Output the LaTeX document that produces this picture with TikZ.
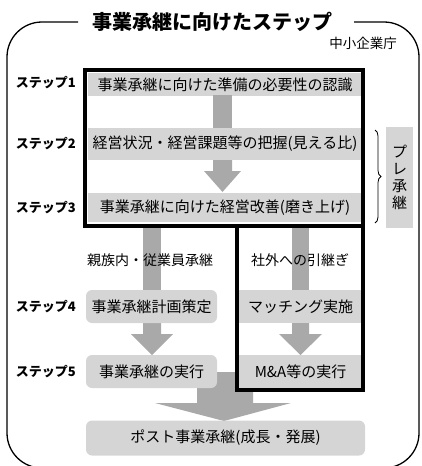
\documentclass[tikz,border=0pt]{standalone}
\usepackage{fontspec}
\setmainfont{Noto Sans CJK JP}
\usetikzlibrary{decorations.pathreplacing}
\definecolor{bandgray}{HTML}{D5D5D5}
\definecolor{arrgray}{HTML}{A9A9A9}
\begin{document}
\begin{tikzpicture}[x=1pt,y=-1pt,
  band/.style={fill=bandgray,inner sep=0pt,text=black,font=\fontsize{15}{17}\selectfont},
  rband/.style={band,rounded corners=6pt},
  steplabel/.style={anchor=east,inner sep=0pt,font=\bfseries\fontsize{13}{15}\selectfont},
  sublabel/.style={inner sep=1pt,font=\fontsize{14}{16}\selectfont},
  arr/.style={fill=arrgray,draw=none},
  thick frame/.style={draw=black,line width=4pt},
  outer/.style={draw=black,line width=1.3pt,rounded corners=35pt}]
\useasboundingbox (0,0) rectangle (422,466);
% outer frame
\node[inner sep=0pt,font=\bfseries\fontsize{20}{22}\selectfont] (title) at (212,22) {事業承継に向けたステップ};
\coordinate (fl) at (78,22);
\coordinate (fr) at (354,22);
\draw[outer] (fl) -- (7,22) -- (7,468) -- (419,468) -- (419,22) -- (fr);
\node[inner sep=0pt,anchor=east,font=\fontsize{13.5}{15}\selectfont] (src) at (397,43) {中小企業庁};
% bands
\node[band,minimum width=274pt,minimum height=23pt] (s1) at (225,84.5) {事業承継に向けた準備の必要性の認識};
\node[band,minimum width=274pt,minimum height=32pt] (s2) at (225,144) {経営状況・経営課題等の把握(見える比)};
\node[band,minimum width=274pt,minimum height=29pt] (s3) at (225,207.5) {事業承継に向けた経営改善(磨き上げ)};
% arrows in upper box
\fill[arr] (213,95) rectangle (232,128);
\fill[arr] (213,160) -- (232,160) -- (232,171) -- (241,171) -- (222.5,192) -- (204,171) -- (213,171) -- cycle;
% lower arrows
\fill[arr] (143,226) rectangle (161,290);
\fill[arr] (292,226) rectangle (309,290);
\fill[arr] (143,323) -- (161,323) -- (161,334) -- (173,334) -- (152,355) -- (131,334) -- (143,334) -- cycle;
\fill[arr] (292,323) -- (309,323) -- (309,334) -- (322,334) -- (300.5,355) -- (279,334) -- (292,334) -- cycle;
\fill[arr] (197,372) -- (253,372) -- (253,403) -- (291,403) -- (224,421) -- (155,403) -- (197,403) -- cycle;
% lower bands
\node[rband,minimum width=131pt,minimum height=33pt] (s4l) at (151.5,306.5) {事業承継計画策定};
\node[band,minimum width=123pt,minimum height=33pt] (s4r) at (300.5,306.5) {マッチング実施};
\node[rband,minimum width=131pt,minimum height=33pt] (s5l) at (151.5,371.5) {事業承継の実行};
\node[band,minimum width=123pt,minimum height=33pt] (s5r) at (300.5,371.5) {M\&A等の実行};
\node[rband,minimum width=279pt,minimum height=35pt] (post) at (225.5,438) {ポスト事業承継(成長・発展)};
% sublabels
\node[sublabel] (inner) at (150,260) {親族内・従業員承継};
\node[sublabel] (outside) at (300,260) {社外への引継ぎ};
% thick frames
\draw[thick frame] (85,70) rectangle (363,226);
\draw[thick frame] (237,226) rectangle (363,390);
% step labels
\node[steplabel] (l1) at (76,83) {ステップ1};
\node[steplabel] (l2) at (76,144) {ステップ2};
\node[steplabel] (l3) at (76,208) {ステップ3};
\node[steplabel] (l4) at (76,307) {ステップ4};
\node[steplabel] (l5) at (76,372) {ステップ5};
% brace and pre box
\coordinate (bt) at (375,130);
\coordinate (bb) at (375,223);
\draw[line width=0.8pt,decorate,decoration={brace,amplitude=6pt}] (bt) -- (bb);
\node[fill=bandgray,minimum width=27pt,minimum height=101pt,inner sep=0pt] (pre) at (399.5,177.5) {};
\node[align=center,inner sep=0pt,font=\fontsize{15}{17}\selectfont] (pretext) at (pre.center) {プ\\レ\\承\\継};
\end{tikzpicture}
\end{document}
